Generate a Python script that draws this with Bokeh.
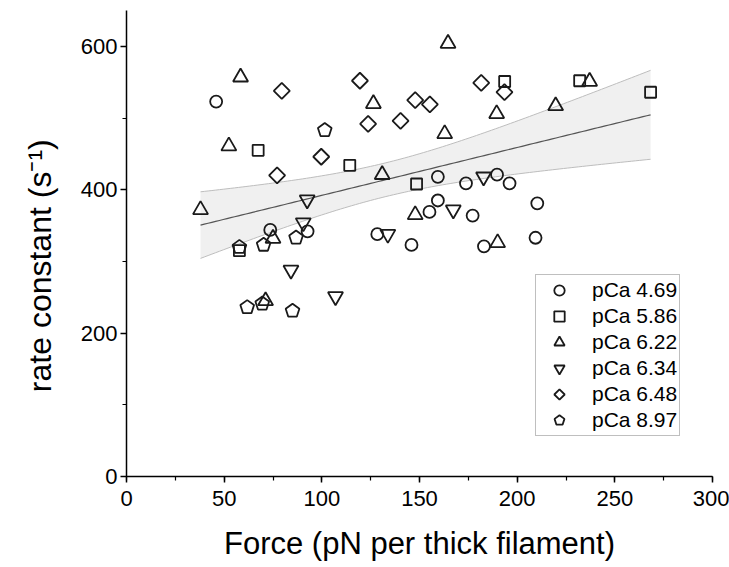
import numpy as np
from bokeh.plotting import figure
from bokeh.models import Range1d, SingleIntervalTicker, Legend, LegendItem
from bokeh.embed import file_html
from bokeh.resources import INLINE

# ---- data ----
c469_x = [45.9, 73.6, 92.7, 128.4, 145.9, 155.1, 159.4, 159.4, 173.8, 177.2, 183.0, 189.7, 196.1, 210.3, 209.4]
c469_y = [523, 344, 342, 338, 323, 369, 418, 385, 409, 364, 321, 421, 409, 381, 333]

c586_x = [57.8, 67.4, 114.3, 148.5, 193.6, 232.0, 268.3]
c586_y = [315, 455, 434, 408, 551, 552, 536]

c622_x = [37.9, 52.4, 58.4, 75.0, 71.2, 126.4, 130.9, 147.8, 162.9, 164.6, 189.5, 190.0, 219.7, 237.1]
c622_y = [372, 461, 557, 332, 245, 520, 421, 365, 478, 604, 506, 326, 517, 551]

c634_x = [84.2, 90.5, 92.5, 107.0, 133.8, 167.3, 182.8]
c634_y = [288, 354, 386, 251, 338, 372, 418]

c648_x = [77.1, 79.5, 99.7, 119.5, 123.7, 140.3, 147.8, 155.3, 181.6, 193.5]
c648_y = [420, 538, 446, 552, 492, 496, 525, 519, 549, 536]

c897_x = [57.8, 61.8, 69.5, 70.2, 85.0, 86.8, 101.5]
c897_y = [320, 236, 241, 323, 231, 333, 483]

labels = ["pCa 4.69", "pCa 5.86", "pCa 6.22", "pCa 6.34", "pCa 6.48", "pCa 8.97"]

x_ticks_interval = 50
y_ticks_interval = 200

# ---- figure ----
p = figure(width=729, height=567, output_backend="svg", toolbar_location=None,
           x_range=Range1d(0, 300), y_range=Range1d(0, 650))
p.min_border_left = 126
p.min_border_right = 17
p.min_border_top = 10
p.min_border_bottom = 91
p.outline_line_color = None
p.background_fill_color = "white"
p.border_fill_color = "white"
p.xgrid.visible = False
p.ygrid.visible = False

FONT = "Liberation Sans"
for ax in (p.xaxis[0], p.yaxis[0]):
    ax.axis_line_color = "black"
    ax.axis_line_width = 1.5
    ax.major_tick_line_color = "black"
    ax.major_tick_line_width = 1.5
    ax.minor_tick_line_color = "black"
    ax.minor_tick_line_width = 1.2
    ax.major_tick_in = 0
    ax.major_tick_out = 6
    ax.minor_tick_in = 0
    ax.minor_tick_out = 4
    ax.major_label_text_font = FONT
    ax.major_label_text_font_size = "22px"
    ax.major_label_text_color = "black"
    ax.axis_label_text_font = FONT
    ax.axis_label_text_font_style = "normal"
    ax.axis_label_text_color = "black"

p.xaxis.axis_label_text_font_size = "31px"
p.yaxis.axis_label_text_font_size = "32px"
p.xaxis.ticker = SingleIntervalTicker(interval=x_ticks_interval, num_minor_ticks=2)
p.yaxis.ticker = SingleIntervalTicker(interval=y_ticks_interval, num_minor_ticks=2)
p.xaxis.axis_label = "Force (pN per thick filament)"
# trailing no-break spaces nudge the centred label slightly down, as in the reference
p.yaxis.axis_label = "rate constant (s\u207b\u00b9)" + "\u00a0" * 5
p.xaxis.major_label_standoff = 8
p.xaxis.axis_label_standoff = 17
p.yaxis.major_label_standoff = 3
p.yaxis.axis_label_standoff = 20

# ---- linear fit with 95% confidence band ----
all_x = np.array(c469_x + c586_x + c622_x + c634_x + c648_x + c897_x, dtype=float)
all_y = np.array(c469_y + c586_y + c622_y + c634_y + c648_y + c897_y, dtype=float)
n = len(all_x)
slope, intercept = np.polyfit(all_x, all_y, 1)
resid = all_y - (slope * all_x + intercept)
s = np.sqrt(np.sum(resid ** 2) / (n - 2))
xm = all_x.mean()
sxx = np.sum((all_x - xm) ** 2)
t_crit = 2.0017
fx = np.linspace(all_x.min(), all_x.max(), 120)
fy = slope * fx + intercept
half = t_crit * s * np.sqrt(1.0 / n + (fx - xm) ** 2 / sxx)
up = fy + half
lo = fy - half

p.varea(x=fx, y1=lo, y2=up, fill_color="#f0f0f0")
p.line(fx, up, line_color="#bdbdbd", line_width=1)
p.line(fx, lo, line_color="#bdbdbd", line_width=1)
p.line(fx, fy, line_color="#555555", line_width=1.2)

# ---- scatter ----
LC = "#1a1a1a"
LW = 1.8
r1 = p.scatter(c469_x, c469_y, marker="circle", size=12, fill_color=None, line_color=LC, line_width=LW)
r2 = p.scatter(c586_x, c586_y, marker="square", size=11, fill_color=None, line_color=LC, line_width=LW)
r3 = p.scatter(c622_x, c622_y, marker="triangle", size=15, fill_color=None, line_color=LC, line_width=LW)
r4 = p.scatter(c634_x, c634_y, marker="inverted_triangle", size=15, fill_color=None, line_color=LC, line_width=LW)
r5 = p.ngon(x=c648_x, y=c648_y, radius=8, radius_units="screen", n=4, angle=0,
            fill_color=None, line_color=LC, line_width=LW)
r6 = p.ngon(x=c897_x, y=c897_y, radius=7.2, radius_units="screen", n=5, angle=0,
            fill_color=None, line_color=LC, line_width=LW)

legend = Legend(items=[LegendItem(label=l, renderers=[r]) for l, r in zip(labels, [r1, r2, r3, r4, r5, r6])],
                location=(409, 40))
legend.label_text_font = FONT
legend.label_text_font_size = "21px"
legend.label_text_color = "black"
legend.glyph_width = 42
legend.glyph_height = 26
legend.label_height = 26
legend.spacing = 0
legend.padding = 2
legend.margin = 0
legend.label_standoff = 12
legend.border_line_color = "#808080"
legend.border_line_width = 1.5
legend.background_fill_color = "white"
legend.background_fill_alpha = 1.0
p.add_layout(legend, "center")

open("out.html", "w").write(file_html(p, INLINE))
